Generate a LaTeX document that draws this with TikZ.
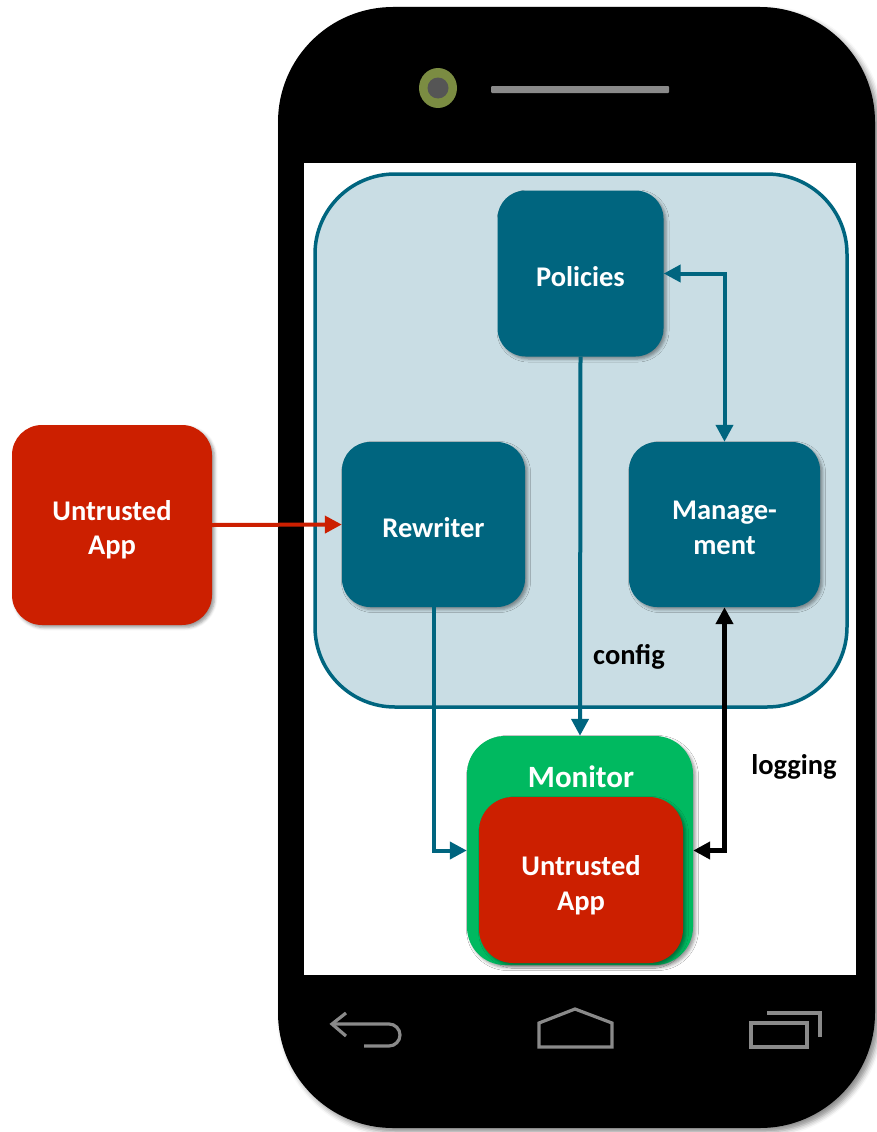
\documentclass[tikz,border=0pt]{standalone}
\usepackage{fontspec}
\setmainfont{Carlito}
\usetikzlibrary{arrows.meta,shadows.blur}

\definecolor{boxteal}{HTML}{00657F}
\definecolor{panelblue}{HTML}{C9DDE4}
\definecolor{apred}{HTML}{CC1F00}
\definecolor{mongreen}{HTML}{00B960}
\definecolor{camolive}{HTML}{7B8C42}
\definecolor{camlens}{HTML}{555555}
\definecolor{navgray}{HTML}{8A8A8A}

% box caption: centred lines, set a little below the middle of the box
\newcommand{\boxcaption}[2][-12pt]{\raisebox{#1}[0pt][0pt]{\begin{tabular}{@{}c@{}}#2\end{tabular}}}

\tikzset{
  softshadow/.style={blur shadow={shadow xshift=2.5pt, shadow yshift=-2.5pt,
      shadow blur radius=3pt, shadow opacity=40}},
  boxtext/.style={font=\bfseries\fontsize{28.5}{34.5}\selectfont, text=white},
  tealbox/.style={rectangle, rounded corners=28pt, fill=boxteal, inner sep=0pt,
      boxtext, softshadow},
  appbox/.style={rectangle, rounded corners=30pt, fill=apred, inner sep=0pt,
      boxtext, softshadow},
  monbox/.style={rectangle, rounded corners=38pt, fill=mongreen, inner sep=0pt, softshadow},
  flowlabel/.style={font=\bfseries\fontsize{28.5}{34}\selectfont, text=black},
  tealarrow/.style={draw=boxteal, line width=4pt,
      -{Triangle[length=17pt, width=17pt]}},
  navicon/.style={draw=navgray, line width=3.2pt},
}

\begin{document}
\begin{tikzpicture}[x=1pt, y=-1pt]
\useasboundingbox (0,0) rectangle (876,1132);

% handset body, screen, camera and speaker
\path[fill=black, rounded corners=115pt,
  blur shadow={shadow xshift=4pt, shadow yshift=-4pt, shadow blur radius=5pt, shadow opacity=45}]
  (278,7) rectangle (875,1128);
\fill[white] (304,163) rectangle (856,975);
\fill[camolive] (438,88) ellipse [x radius=19, y radius=20];
\fill[camlens] (438,88) circle [radius=10.5];
\fill[navgray, rounded corners=1pt] (491,86) rectangle (669,93);

% navigation bar icons
\draw[navicon] (346,1013) -- (332,1024) -- (346,1036);
\draw[navicon] (332,1024) -- (389,1024) arc[start angle=-90, end angle=90, radius=11] -- (364,1046);
\draw[navicon, line join=miter] (539,1047) -- (539,1023) -- (575,1009) -- (612,1023) -- (612,1047) -- cycle;
\draw[navicon] (751,1023) rectangle (807,1047);
\draw[navicon] (767,1013) -- (820,1013) -- (820,1037);

% framework panel
\draw[draw=boxteal, line width=3.5pt, fill=panelblue, rounded corners=80pt]
  (315,174) rectangle (847,707);

% components
\node[tealbox, minimum width=166pt, minimum height=166pt] (pol) at (580.5,273.5) {\boxcaption{Policies}};
\node[tealbox, minimum width=183pt, minimum height=165pt] (rew) at (433.5,524.5) {\boxcaption{Rewriter}};
\node[tealbox, minimum width=191pt, minimum height=165pt] (mgmt) at (724.5,524.5) {\boxcaption{Manage-\\ment}};
\node[appbox, minimum width=200pt, minimum height=200pt] (app) at (112,525) {\boxcaption{Untrusted\\App}};

\node[monbox, minimum width=226pt, minimum height=229pt] (mon) at (580,850.5) {};
\node[font=\bfseries\fontsize{31}{36}\selectfont, text=white] (montitle) at (581,777) {Monitor};
\node[appbox, rounded corners=34pt, minimum width=204pt, minimum height=166pt] (inapp) at (581,880) {\boxcaption[-12.5pt]{Untrusted\\App}};

% connectors
\draw[draw=apred, line width=4pt, -{Triangle[length=17pt, width=17pt]}] (app.east) -- (rew.west);
\draw[tealarrow, {Triangle[length=17pt, width=17pt]}-{Triangle[length=17pt, width=17pt]}]
  (pol.east) -| (mgmt.north);
\draw[tealarrow] (pol.south) -- (mon.north);
\draw[tealarrow] (rew.south) |- (mon.west);
\draw[draw=black, line width=4.5pt,
  {Triangle[length=17pt, width=17pt]}-{Triangle[length=17pt, width=17pt]}]
  (mgmt.south) |- (mon.east);

% flow labels
\node[flowlabel] (cfg) at (629,657) {config};
\node[flowlabel] (log) at (794,767) {logging};
\end{tikzpicture}
\end{document}
